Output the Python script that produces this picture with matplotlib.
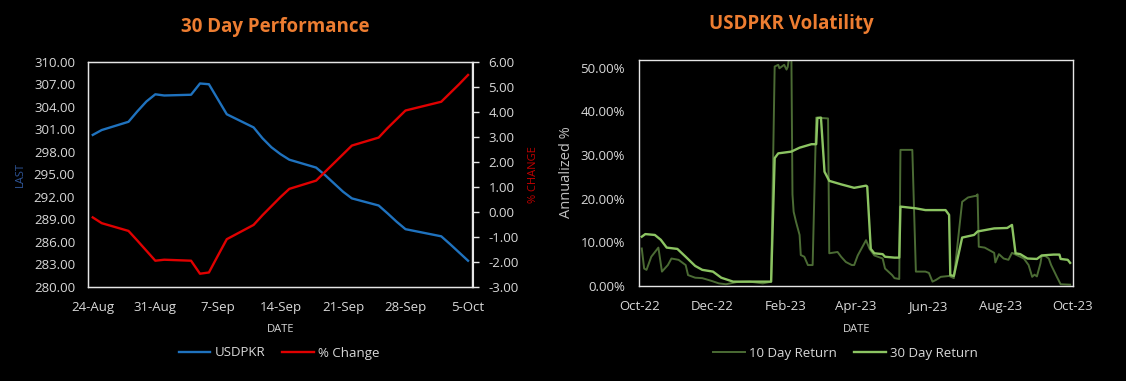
"""
USDPKR dashboard: 30 day performance (level vs % change) and
annualized 10/30 day return volatility, dark Excel-style theme.
"""

import pandas as pd
import matplotlib
matplotlib.use("Agg")
import matplotlib.pyplot as plt
import matplotlib.dates as mdates
from matplotlib.ticker import FixedLocator, FuncFormatter

FONT = ["Open Sans", "DejaVu Sans"]
plt.rcParams["font.family"] = FONT

# ---- 30 day performance -------------------------------------------------
perf_dates = [
    "2023-08-24", "2023-08-25", "2023-08-28", "2023-08-29", "2023-08-30",
    "2023-08-31", "2023-09-01", "2023-09-04", "2023-09-05", "2023-09-06",
    "2023-09-07", "2023-09-08", "2023-09-11", "2023-09-12", "2023-09-13",
    "2023-09-14", "2023-09-15", "2023-09-18", "2023-09-19", "2023-09-20",
    "2023-09-21", "2023-09-22", "2023-09-25", "2023-09-26", "2023-09-27",
    "2023-09-28", "2023-10-02", "2023-10-03", "2023-10-04", "2023-10-05",
]
usdpkr_last = [
    300.25, 300.9, 302.0, 303.4, 304.7, 305.66, 305.5, 305.6, 307.1, 307.0,
    305.0, 303.0, 301.25, 299.8, 298.6, 297.7, 296.95, 295.9, 294.9, 293.8,
    292.7, 291.8, 290.85, 289.8, 288.7, 287.7, 286.75, 285.7, 284.6, 283.5,
]
pct_change = [
    -0.22, -0.45, -0.76, -1.15, -1.55, -1.95, -1.91, -1.95, -2.47, -2.42,
    -1.75, -1.09, -0.52, -0.13, 0.23, 0.59, 0.92, 1.25, 1.6, 1.95,
    2.3, 2.65, 2.97, 3.35, 3.7, 4.05, 4.4, 4.75, 5.1, 5.47,
]
perf_ticks = ["2023-08-24", "2023-08-31", "2023-09-07", "2023-09-14",
              "2023-09-21", "2023-09-28", "2023-10-05"]

# ---- volatility (annualized %, read at turning points) -----------------
vol10_dates = [
    "2022-10-03", "2022-10-05", "2022-10-07", "2022-10-11", "2022-10-17",
    "2022-10-20", "2022-10-25", "2022-10-28", "2022-11-03", "2022-11-09",
    "2022-11-11", "2022-11-17", "2022-11-23", "2022-12-01", "2022-12-07",
    "2022-12-13", "2022-12-22", "2023-01-02", "2023-01-13", "2023-01-20",
    "2023-01-23", "2023-01-26", "2023-01-27", "2023-01-31", "2023-02-02",
    "2023-02-03", "2023-02-06", "2023-02-07", "2023-02-08", "2023-02-10",
    "2023-02-13", "2023-02-14", "2023-02-17", "2023-02-20", "2023-02-24",
    "2023-02-27", "2023-03-09", "2023-03-10", "2023-03-17", "2023-03-20",
    "2023-03-24", "2023-03-29", "2023-03-31", "2023-04-03", "2023-04-07",
    "2023-04-10", "2023-04-13", "2023-04-17", "2023-04-24", "2023-04-26",
    "2023-05-02", "2023-05-04", "2023-05-08", "2023-05-09", "2023-05-19",
    "2023-05-22", "2023-05-30", "2023-06-02", "2023-06-05", "2023-06-08",
    "2023-06-12", "2023-06-19", "2023-06-23", "2023-06-30", "2023-07-05",
    "2023-07-12", "2023-07-13", "2023-07-14", "2023-07-19", "2023-07-27",
    "2023-07-28", "2023-07-31", "2023-08-04", "2023-08-08", "2023-08-11",
    "2023-08-21", "2023-08-25", "2023-08-28", "2023-08-30", "2023-09-01",
    "2023-09-04", "2023-09-05", "2023-09-08", "2023-09-11", "2023-09-13",
    "2023-09-18", "2023-09-21", "2023-09-29",
]
vol10_vals = [
    8.6, 4.0, 3.7, 6.7, 8.8,
    3.3, 4.8, 6.3, 6.0, 4.8,
    2.5, 1.9, 1.8, 1.15, 0.6,
    0.4, 0.9, 1.0, 0.6, 1.0,
    50.3, 50.7, 49.9, 50.7, 49.6,
    50.2, 56.0, 21.0, 17.0, 14.7,
    11.7, 7.1, 6.7, 4.8, 4.8,
    38.6, 38.4, 7.5, 7.8, 6.7,
    5.5, 4.8, 4.8, 7.0, 9.0,
    10.5, 8.5, 7.0, 6.3, 4.0,
    2.5, 1.8, 1.6, 31.2, 31.2,
    3.3, 3.3, 3.0, 1.0, 1.4,
    2.1, 2.3, 1.8, 19.3, 20.3,
    20.7, 21.0, 9.0, 8.8, 7.6,
    5.4, 7.3, 6.3, 6.0, 7.6,
    6.3, 4.8, 2.1, 2.6, 2.2,
    5.2, 6.9, 6.9, 6.3, 4.8,
    2.0, 0.4, 0.3,
]
vol30_dates = [
    "2022-10-03", "2022-10-06", "2022-10-14", "2022-10-19", "2022-10-24",
    "2022-11-02", "2022-11-09", "2022-11-17", "2022-11-23", "2022-12-02",
    "2022-12-09", "2022-12-19", "2023-01-20", "2023-01-23", "2023-01-26",
    "2023-02-06", "2023-02-13", "2023-02-23", "2023-02-27", "2023-02-28",
    "2023-03-03", "2023-03-06", "2023-03-10", "2023-03-20", "2023-03-31",
    "2023-04-10", "2023-04-11", "2023-04-14", "2023-04-17", "2023-04-24",
    "2023-04-26", "2023-05-04", "2023-05-08", "2023-05-09", "2023-05-22",
    "2023-05-30", "2023-06-16", "2023-06-19", "2023-06-20", "2023-06-23",
    "2023-06-30", "2023-07-10", "2023-07-13", "2023-07-27", "2023-08-07",
    "2023-08-11", "2023-08-14", "2023-08-18", "2023-08-24", "2023-09-01",
    "2023-09-05", "2023-09-15", "2023-09-20", "2023-09-21", "2023-09-27",
    "2023-09-29",
]
vol30_vals = [
    11.3, 11.9, 11.7, 10.6, 8.8,
    8.5, 6.7, 4.6, 3.7, 3.3,
    1.9, 1.0, 1.0, 29.3, 30.4,
    30.8, 31.7, 32.5, 32.5, 38.5,
    38.6, 26.2, 24.1, 23.3, 22.5,
    23.0, 22.8, 8.5, 7.5, 7.3,
    6.7, 6.5, 6.5, 18.2, 17.8,
    17.4, 17.4, 16.3, 2.5, 2.3,
    11.1, 11.7, 12.5, 13.2, 13.3,
    14.0, 7.5, 7.3, 6.3, 6.2,
    7.0, 7.2, 7.2, 6.2, 6.0,
    5.3,
]
vol_ticks = ["2022-10-01", "2022-12-01", "2023-02-01", "2023-04-01",
             "2023-06-01", "2023-08-01", "2023-10-01"]

BG = "black"
TXT = "#D9D9D9"
FRAME = "#E6E6E6"
ORANGE = "#ED7D31"
BLUE = "#1F72BE"
RED = "#E00000"
G10 = "#4B6B34"
G30 = "#8CC462"

W, H = 1126, 381


def fx(px):
    return px / W


def fy(py):
    return 1 - py / H


def style_box(ax):
    ax.set_facecolor(BG)
    for s in ax.spines.values():
        s.set_color(FRAME)
        s.set_linewidth(1.0)


def make_perf(fig):
    ax = fig.add_axes([fx(88.3), fy(287), fx(472.5 - 88.3), (287 - 61.7) / H])
    style_box(ax)
    d = pd.to_datetime(perf_dates)
    ax.plot(d, usdpkr_last, color=BLUE, lw=1.7, label="USDPKR")
    ax.set_ylim(280, 310)
    ax.yaxis.set_major_locator(FixedLocator(range(280, 311, 3)))
    ax.yaxis.set_major_formatter(FuncFormatter(lambda v, p: f"{v:.2f}"))
    ax.tick_params(axis="y", length=0, pad=9.5, colors=TXT, labelsize=9.5)

    t = pd.to_datetime(perf_ticks)
    ax.set_xlim(d[0] - pd.Timedelta(hours=12), d[-1] + pd.Timedelta(hours=12))
    ax.set_xticks(t)
    ax.set_xticklabels([f"{x.day}-{x:%b}" for x in t])
    ax.tick_params(axis="x", length=0, pad=10, colors=TXT, labelsize=9.5)

    ax2 = ax.twinx()
    ax2.plot(d, pct_change, color=RED, lw=1.7, label="% Change")
    ax2.set_ylim(-3, 6)
    ax2.yaxis.set_major_locator(FixedLocator(range(-3, 7)))
    ax2.yaxis.set_major_formatter(FuncFormatter(lambda v, p: f"{v:.2f}"))
    ax2.tick_params(axis="y", length=4, width=1, color=FRAME, pad=7.5,
                    colors=TXT, labelsize=9.5)
    ax2.tick_params(axis="y", color=FRAME)
    for s in ax2.spines.values():
        s.set_color(FRAME)

    fig.text(fx(275), fy(27), "30 Day Performance", color=ORANGE,
             fontsize=13.5, fontweight="bold", ha="center", va="center")
    fig.text(fx(20.8), fy(175), "LAST", color="#2F5597", fontsize=8,
             rotation=90, ha="center", va="center")
    fig.text(fx(533), fy(175), "% CHANGE", color="#C00000", fontsize=8,
             rotation=90, ha="center", va="center")
    fig.text(fx(280.7), fy(330), "DATE", color=TXT, fontsize=8,
             ha="center", va="center")

    h1, l1 = ax.get_legend_handles_labels()
    h2, l2 = ax2.get_legend_handles_labels()
    fig.legend(h1 + h2, l1 + l2, loc="center",
               bbox_to_anchor=(fx(279), fy(353)), ncol=2, frameon=False,
               fontsize=9.5, handlelength=2.4, handletextpad=0.3,
               columnspacing=1.3, labelcolor=TXT)


def make_vol(fig):
    ax = fig.add_axes([fx(639.4), fy(286), fx(1072.5 - 639.4), (286 - 60) / H])
    style_box(ax)
    ax.plot(pd.to_datetime(vol10_dates), vol10_vals, color=G10, lw=1.4,
            label="10 Day Return")
    ax.plot(pd.to_datetime(vol30_dates), vol30_vals, color=G30, lw=1.7,
            label="30 Day Return")
    ax.set_ylim(0, 51.8)
    ax.yaxis.set_major_locator(FixedLocator(range(0, 51, 10)))
    ax.yaxis.set_major_formatter(FuncFormatter(lambda v, p: f"{v:.2f}%"))
    ax.tick_params(axis="y", length=0, pad=10.5, colors=TXT, labelsize=9.5)

    t = pd.to_datetime(vol_ticks)
    ax.set_xlim(t[0], t[-1])
    ax.set_xticks(t)
    ax.xaxis.set_major_formatter(mdates.DateFormatter("%b-%y"))
    ax.tick_params(axis="x", length=0, pad=10, colors=TXT, labelsize=9.5)

    fig.text(fx(791), fy(24), "USDPKR Volatility", color=ORANGE,
             fontsize=13.5, fontweight="bold", ha="center", va="center")
    fig.text(fx(566.5), fy(172.5), "Annualized %", color="#BFBFBF",
             fontsize=10.5, rotation=90, ha="center", va="center")
    fig.text(fx(856.7), fy(329), "DATE", color=TXT, fontsize=8,
             ha="center", va="center")

    fig.legend(*ax.get_legend_handles_labels(), loc="center",
               bbox_to_anchor=(fx(845.5), fy(353)), ncol=2, frameon=False,
               fontsize=9.5, handlelength=2.4, handletextpad=0.3,
               columnspacing=1.3, labelcolor=TXT)


def main():
    fig = plt.figure(figsize=(W / 100, H / 100), dpi=100, facecolor=BG)
    make_perf(fig)
    make_vol(fig)
    fig.savefig("out.png", dpi=100, facecolor=BG)


if __name__ == "__main__":
    main()
